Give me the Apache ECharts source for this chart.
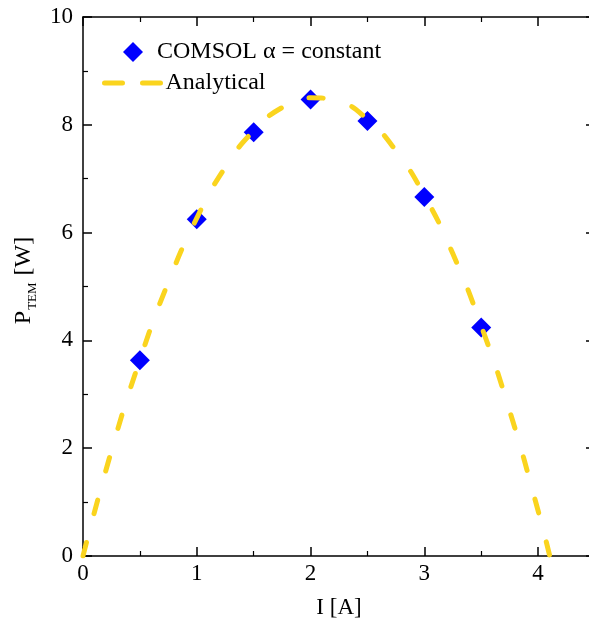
<!DOCTYPE html>
<html>
<head>
<meta charset="utf-8">
<script src="https://cdn.jsdelivr.net/npm/echarts@6/dist/echarts.min.js"></script>
<style>
  html, body { margin: 0; padding: 0; background: #fff; }
  #chart { width: 589px; height: 628px; }
</style>
</head>
<body>
<div id="chart"></div>
<script>
// COMSOL points (alpha = constant)
const currentI = [0.5, 1, 1.5, 2, 2.5, 3, 3.5]
const comsolP = [3.63, 6.25, 7.86, 8.47, 8.07, 6.66, 4.24]

// analytical curve
const curveI = [0, 0.25, 0.5, 0.75, 1, 1.25, 1.5, 1.75, 2, 2.25, 2.5, 2.75, 3, 3.25, 3.5, 3.75, 4, 4.1]
const curveP = [0, 1.95, 3.64, 5.08, 6.27, 7.21, 7.89, 8.32, 8.50, 8.43, 8.10, 7.52, 6.69, 5.61, 4.27, 2.69, 0.84, 0.02]

const xTicks = [0, 1, 2, 3, 4]
const yTicks = [0, 2, 4, 6, 8, 10]

const font = 'Liberation Serif'
const yellow = '#FAD41E'

const chart = echarts.init(document.getElementById('chart'))

const frameAxis = {
  axisLine: { show: true, onZero: false, lineStyle: { color: '#000', width: 1.5 } },
  axisTick: { show: true, inside: true, length: 9, lineStyle: { color: '#000', width: 1.5 } },
  minorTick: { show: true, splitNumber: 2, length: 5, lineStyle: { color: '#000', width: 1.2 } },
  splitLine: { show: false }
}

const option = {
  animation: false,
  grid: { left: 83, top: 17, width: 512, height: 539, outerBoundsMode: 'none', containLabel: false },
  legend: [
    {
      left: 118, top: 35,
      itemWidth: 20, itemHeight: 20,
      data: [{ name: 'COMSOL α = constant', icon: 'diamond' }],
      itemStyle: { opacity: 1 },
      textStyle: { fontFamily: font, fontSize: 24, color: '#000', padding: [0, 0, 0, 9] }
    },
    {
      left: 97, top: 66,
      itemWidth: 56, itemHeight: 20,
      data: ['Analytical'],
      itemStyle: { opacity: 0 },
      lineStyle: { color: yellow, width: 5, type: [18, 20], cap: 'round', opacity: 1 },
      textStyle: { fontFamily: font, fontSize: 24, color: '#000' }
    }
  ],
  xAxis: [
    Object.assign({}, frameAxis, {
      type: 'value', position: 'bottom', min: 0, max: 4.5, interval: 1,
      name: 'I [A]', nameLocation: 'middle', nameGap: 40,
      nameTextStyle: { fontFamily: font, fontSize: 23, color: '#000' },
      axisLabel: {
        margin: 6, fontFamily: font, fontSize: 23, color: '#000',
        formatter: v => xTicks.includes(v) ? String(v) : ''
      }
    }),
    Object.assign({}, frameAxis, {
      type: 'value', position: 'top', min: 0, max: 4.5, interval: 1,
      axisLabel: { show: false }
    })
  ],
  yAxis: [
    Object.assign({}, frameAxis, {
      type: 'value', position: 'left', min: 0, max: 10, interval: 2,
      name: '{p|P}{s|TEM}{p| [W]}', nameLocation: 'middle', nameGap: 44, nameRotate: 90,
      nameTextStyle: {
        padding: [0, 0, 0, 12],
        rich: {
          p: { fontFamily: font, fontSize: 24, color: '#000' },
          s: { fontFamily: font, fontSize: 13, color: '#000', verticalAlign: 'bottom', padding: [18, 1, 0, 1] }
        }
      },
      axisLabel: {
        margin: 10, fontFamily: font, fontSize: 23, color: '#000',
        formatter: v => yTicks.includes(v) ? String(v) : ''
      }
    }),
    Object.assign({}, frameAxis, {
      type: 'value', position: 'right', min: 0, max: 10, interval: 2,
      axisLabel: { show: false }
    })
  ],
  series: [
    {
      name: 'COMSOL α = constant',
      type: 'scatter',
      symbol: 'diamond',
      symbolSize: 20,
      itemStyle: { color: '#0000FF', opacity: 1 },
      z: 2,
      data: currentI.map((x, i) => [x, comsolP[i]])
    },
    {
      name: 'Analytical',
      type: 'line',
      smooth: true,
      symbol: 'none',
      showSymbol: false,
      z: 3,
      itemStyle: { color: yellow },
      lineStyle: { color: yellow, width: 5, type: [14, 30], cap: 'round' },
      data: curveI.map((x, i) => [x, curveP[i]])
    }
  ]
}

chart.setOption(option)
</script>
</body>
</html>
